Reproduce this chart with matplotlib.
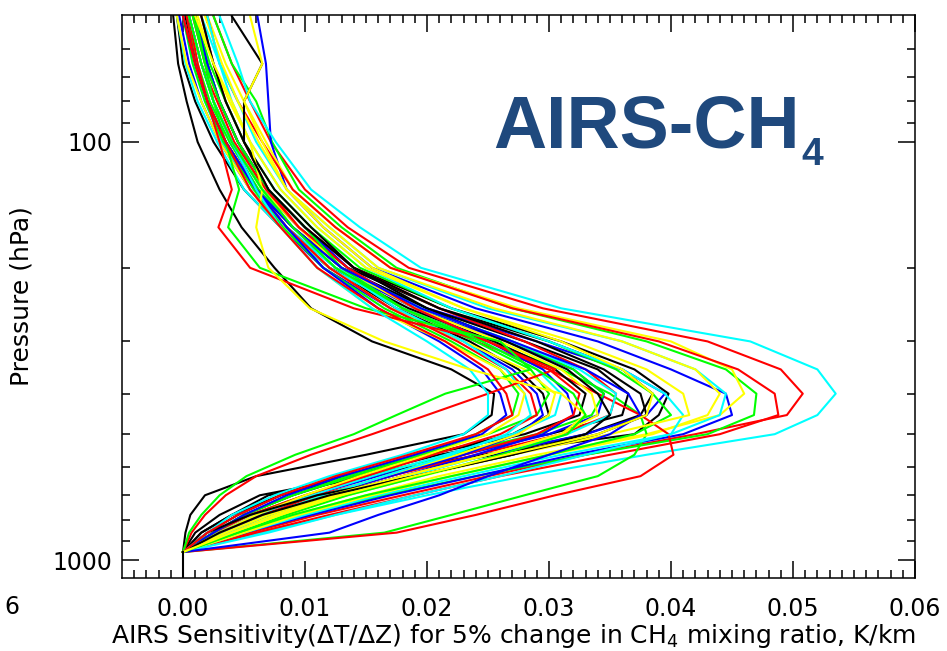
import matplotlib
matplotlib.use("Agg")
import matplotlib.pyplot as plt
from matplotlib.ticker import FixedLocator, NullFormatter

# pressure levels (hPa) shared by every profile
P_LEVELS = [50, 65, 80, 100, 130, 160, 200, 250, 300, 350, 400, 450, 500,
            560, 630, 700, 780, 860, 957]

# sensitivity profiles in units of 1e-3 K/km, one list per line colour
BLACK = [
    [1.0, 2.0, 3.0, 4.5, 7.0, 10.0, 14.0, 22.0, 31.0, 37.0, 39.8, 39.0, 37.0, 24.5, 14.5, 6.3, 3.0, 1.0, 0],
    [0.5, 1.5, 2.5, 4.0, 6.5, 9.5, 13.5, 21.0, 30.0, 36.0, 38.5, 37.5, 33.0, 25.5, 15.5, 7.0, 4.0, 1.5, 0],
    [0.0, 1.0, 2.0, 3.5, 6.0, 9.0, 13.0, 20.0, 28.0, 34.0, 36.5, 36.0, 30.0, 21.0, 14.0, 9.0, 5.0, 2.5, 0],
    [-0.5, 0.0, 1.0, 2.5, 5.0, 8.0, 12.0, 18.5, 25.5, 30.5, 33.0, 32.5, 28.0, 20.0, 13.0, 8.0, 4.5, 2.0, 0],
    [0.2, 1.0, 2.0, 3.5, 6.0, 8.5, 12.0, 17.5, 23.5, 27.5, 29.5, 30.0, 27.0, 20.0, 13.0, 8.0, 4.0, 1.5, 0],
    [-0.8, -0.4, 0.3, 1.2, 3.0, 4.8, 7.5, 10.5, 15.5, 22.0, 25.5, 25.3, 23.0, 15.0, 6.0, 1.8, 0.6, 0.2, 0],
    [1.5, 2.5, 3.5, 5.0, 7.5, 10.5, 14.0, 20.0, 26.5, 31.5, 34.0, 35.0, 33.0, 27.0, 19.0, 11.0, 5.5, 2.0, 0],
    [4.0, 6.5, 5.0, 5.0, 7.0, 10.0, 14.0, 21.0, 29.0, 34.5, 37.5, 38.0, 34.0, 27.0, 19.0, 12.0, 6.5, 3.0, 0],
]
RED = [
    [2.5, 4.0, 5.5, 7.2, 10.0, 13.5, 18.5, 29.5, 43.0, 49.0, 50.8, 49.5, 42.0, 33.0, 25.0, 18.0, 11.0, 5.5, 0],
    [2.0, 3.0, 4.5, 6.5, 9.0, 12.5, 17.0, 27.0, 39.0, 45.5, 48.5, 48.8, 44.0, 35.0, 26.0, 19.0, 12.0, 6.0, 0],
    [1.5, 2.5, 3.5, 5.0, 7.0, 9.5, 13.0, 18.0, 24.0, 30.0, 34.0, 37.5, 39.8, 40.2, 37.5, 30.5, 24.0, 17.5, 0],
    [0.8, 1.8, 3.0, 4.5, 7.0, 10.0, 14.0, 21.0, 28.0, 33.0, 35.5, 35.0, 31.0, 24.0, 17.0, 11.5, 7.0, 3.5, 0],
    [0.5, 1.5, 2.8, 4.2, 6.8, 9.5, 13.5, 19.0, 25.0, 30.0, 32.5, 32.0, 29.0, 23.0, 17.0, 11.0, 6.5, 3.0, 0],
    [0.3, 1.0, 2.0, 3.5, 6.0, 8.5, 12.0, 17.0, 22.5, 26.5, 28.5, 29.0, 26.0, 20.5, 15.0, 10.0, 5.5, 2.5, 0],
    [0.5, 1.2, 2.0, 3.0, 4.0, 2.9, 5.5, 14.0, 25.0, 30.5, 25.0, 20.0, 15.5, 10.5, 6.0, 3.5, 1.8, 0.7, 0],
    [0.0, 1.0, 2.0, 3.5, 5.5, 8.0, 11.0, 16.0, 21.5, 25.0, 26.5, 27.0, 24.0, 18.5, 12.5, 8.0, 4.5, 2.0, 0],
]
GREEN = [
    [2.5, 4.0, 6.0, 7.3, 9.5, 13.0, 17.5, 27.0, 38.0, 44.5, 47.0, 46.8, 43.0, 33.0, 24.0, 16.5, 10.0, 5.0, 0],
    [1.0, 2.0, 3.0, 4.5, 6.5, 9.0, 12.5, 18.0, 25.0, 31.0, 35.0, 37.5, 38.0, 37.0, 34.0, 28.0, 22.0, 16.5, 0],
    [1.0, 2.2, 3.5, 5.0, 7.5, 10.5, 14.5, 22.0, 30.0, 35.5, 38.5, 40.0, 37.0, 30.0, 22.0, 15.0, 9.0, 4.5, 0],
    [0.3, 1.2, 2.2, 3.8, 6.2, 9.0, 13.0, 19.5, 27.0, 32.0, 34.5, 33.5, 29.0, 22.0, 15.0, 10.0, 5.5, 2.5, 0],
    [0.8, 1.8, 3.0, 4.5, 7.0, 10.0, 13.0, 18.0, 24.0, 28.5, 30.0, 29.0, 25.0, 19.5, 14.0, 9.0, 5.0, 2.5, 0],
    [0.0, 0.8, 1.8, 3.3, 5.8, 8.2, 11.5, 16.5, 22.0, 26.0, 27.5, 27.0, 24.0, 19.0, 13.5, 9.0, 5.0, 2.5, 0],
    [1.0, 1.8, 2.5, 3.5, 4.6, 3.7, 6.3, 15.0, 26.0, 28.5, 21.5, 17.5, 14.0, 9.2, 5.2, 3.0, 1.5, 0.5, 0],
    [0.5, 1.5, 2.5, 4.0, 6.5, 9.0, 12.5, 18.0, 24.5, 29.0, 32.0, 33.0, 31.5, 26.0, 19.5, 13.5, 8.5, 4.5, 0],
]
BLUE = [
    [6.1, 6.8, 7.0, 7.2, 8.5, 11.5, 15.5, 24.0, 34.0, 40.0, 44.5, 45.0, 41.0, 32.0, 24.0, 17.0, 10.5, 5.0, 0],
    [0.5, 1.0, 2.0, 3.5, 6.0, 9.0, 13.0, 20.0, 29.0, 36.0, 39.5, 38.0, 33.0, 25.0, 18.0, 12.0, 7.0, 3.5, 0],
    [0.2, 1.0, 2.0, 3.5, 6.0, 8.5, 12.5, 19.0, 26.5, 32.0, 34.5, 34.0, 30.0, 23.0, 16.0, 10.5, 6.0, 3.0, 0],
    [1.0, 2.0, 3.0, 4.5, 7.0, 10.0, 13.5, 19.0, 25.0, 29.5, 31.5, 32.0, 29.5, 24.0, 18.0, 12.0, 7.0, 3.5, 0],
    [-0.3, 0.5, 1.5, 3.0, 5.5, 8.0, 11.5, 17.0, 23.0, 27.0, 29.0, 29.5, 27.5, 23.0, 17.0, 11.5, 7.0, 3.5, 0],
    [0.5, 1.5, 2.5, 4.0, 6.0, 8.5, 11.5, 16.0, 21.0, 24.5, 26.0, 26.5, 24.5, 19.0, 13.0, 8.5, 5.0, 2.5, 0],
    [0.0, 1.0, 2.0, 3.5, 6.0, 9.0, 13.0, 19.5, 27.0, 33.0, 36.5, 37.5, 35.0, 30.0, 25.0, 21.0, 16.0, 12.0, 0],
]
CYAN = [
    [3.0, 4.5, 5.5, 7.6, 10.5, 14.5, 19.5, 31.0, 46.5, 52.0, 53.5, 52.0, 48.5, 38.0, 28.0, 20.0, 12.5, 6.5, 0],
    [1.5, 3.0, 4.5, 6.0, 8.5, 12.0, 16.0, 25.0, 36.0, 42.0, 44.5, 44.0, 40.0, 31.0, 23.0, 16.0, 10.0, 5.0, 0],
    [2.0, 3.0, 4.0, 5.5, 8.0, 11.0, 15.0, 22.0, 30.0, 36.0, 39.5, 41.0, 40.0, 33.0, 26.0, 19.0, 12.5, 7.0, 0],
    [0.0, 0.8, 1.8, 3.2, 5.5, 8.5, 12.5, 19.5, 27.0, 32.5, 35.5, 35.0, 31.5, 25.0, 18.5, 12.5, 7.5, 4.0, 0],
    [-0.5, 0.2, 1.2, 2.8, 5.0, 8.0, 12.0, 18.0, 24.5, 29.0, 31.0, 30.5, 27.0, 21.5, 15.5, 10.5, 6.0, 3.0, 0],
    [0.5, 1.5, 2.5, 4.0, 6.5, 9.0, 12.5, 17.5, 23.0, 26.5, 28.0, 28.5, 26.5, 22.0, 16.5, 11.5, 7.0, 3.5, 0],
    [0.5, 1.5, 2.5, 4.0, 6.0, 8.0, 11.0, 15.5, 20.0, 23.5, 25.0, 25.0, 23.0, 18.0, 12.0, 7.5, 4.0, 2.0, 0],
]
YELLOW = [
    [2.0, 3.5, 5.0, 6.8, 9.0, 12.5, 17.0, 27.5, 40.0, 45.0, 46.0, 44.0, 38.0, 29.0, 21.0, 15.0, 9.0, 4.5, 0],
    [1.8, 3.2, 4.5, 6.2, 8.5, 12.0, 16.0, 25.5, 36.0, 42.0, 44.0, 43.0, 38.5, 30.0, 22.0, 15.5, 9.5, 5.0, 0],
    [1.2, 2.5, 3.8, 5.5, 8.0, 11.0, 15.0, 23.0, 32.0, 38.0, 41.0, 41.5, 35.0, 27.0, 19.5, 13.5, 8.0, 4.0, 0],
    [0.5, 1.5, 2.5, 4.0, 6.5, 9.5, 13.0, 19.0, 26.0, 31.0, 33.5, 34.0, 31.0, 25.0, 18.0, 12.5, 7.5, 3.5, 0],
    [0.0, 1.0, 2.0, 3.5, 6.0, 8.5, 12.0, 17.0, 23.0, 28.0, 30.5, 30.0, 27.5, 22.5, 16.5, 11.5, 7.0, 3.5, 0],
    [-0.5, 0.3, 1.5, 3.0, 5.5, 8.0, 11.0, 15.5, 21.5, 26.0, 28.0, 27.5, 25.0, 20.0, 14.5, 10.0, 6.0, 3.0, 0],
    [1.0, 2.5, 4.0, 5.5, 6.5, 6.0, 7.0, 10.4, 16.5, 23.5, 31.0, 33.0, 31.0, 25.0, 18.0, 12.0, 7.0, 3.5, 0],
    [5.5, 6.5, 5.0, 6.5, 8.5, 11.5, 15.5, 23.0, 31.0, 36.0, 38.5, 38.0, 34.0, 26.5, 19.0, 13.0, 8.0, 4.0, 0],
]
# one black profile keeps going at zero below the surface
TAIL_P = [957, 1100]
TAIL_V = [0.0, 0.0]

GROUPS = [(BLACK, "#000000"), (RED, "#ff0000"), (GREEN, "#00ff00"),
          (BLUE, "#0000ff"), (CYAN, "#00ffff"), (YELLOW, "#ffff00")]

fig = plt.figure(figsize=(9.47, 6.51), dpi=100)
ax = fig.add_axes([122 / 947, 1 - 578 / 651, 793 / 947, 563 / 651])

for i in range(8):
    for profiles, col in GROUPS:
        if i < len(profiles):
            ax.plot([v * 1e-3 for v in profiles[i]], P_LEVELS, color=col, lw=1.5)
ax.plot([v * 1e-3 for v in TAIL_V], TAIL_P, color="#000000", lw=1.5)

ax.set_yscale("log")
ax.set_ylim(1104, 49.7)
ax.set_xlim(-0.005, 0.06)

ax.yaxis.set_major_locator(FixedLocator([100, 1000]))
ax.yaxis.set_minor_locator(FixedLocator([60, 70, 80, 90, 200, 300, 400, 500, 600, 700, 800, 900]))
ax.yaxis.set_minor_formatter(NullFormatter())
ax.set_yticklabels(["100", "1000"])

ax.xaxis.set_major_locator(FixedLocator([0.0, 0.01, 0.02, 0.03, 0.04, 0.05, 0.06]))
ax.xaxis.set_minor_locator(FixedLocator([k * 0.001 for k in range(-4, 60)]))
ax.set_xticklabels(["0.00", "0.01", "0.02", "0.03", "0.04", "0.05", "0.06"])

ax.tick_params(which="both", direction="in", top=True, right=True, width=1.1)
ax.tick_params(which="major", length=12)
ax.tick_params(which="minor", length=6)
ax.tick_params(axis="x", which="major", pad=14, labelsize=17)
ax.tick_params(axis="y", which="major", pad=7, labelsize=17)
for s in ax.spines.values():
    s.set_linewidth(1.1)

ax.set_xlabel(r"AIRS Sensitivity($\Delta$T/$\Delta$Z) for 5% change in CH$_4$ mixing ratio, K/km",
              fontsize=18)
ax.xaxis.set_label_coords(0.494, -0.078)
ax.set_ylabel("Pressure (hPa)", fontsize=18)
ax.yaxis.set_label_coords(-0.112, 0.5)

# clipped leftmost tick label seen at the figure edge
fig.text(0.005, 1 - 607 / 651, "6", fontsize=17, va="center", ha="left")

title = fig.text(493 / 947, 1 - 147 / 651, "AIRS-CH", fontsize=53, fontweight="bold",
                 family="Liberation Sans", color="#1f497d", va="baseline", ha="left")
fig.canvas.draw()
bb = title.get_window_extent()
fig.text(bb.x1 / fig.bbox.width + 0.002, 1 - 165 / 651, "4", fontsize=28, fontweight="bold",
         family="Liberation Sans", color="#1f497d", va="baseline", ha="left")

fig.savefig("out.png", dpi=100)
